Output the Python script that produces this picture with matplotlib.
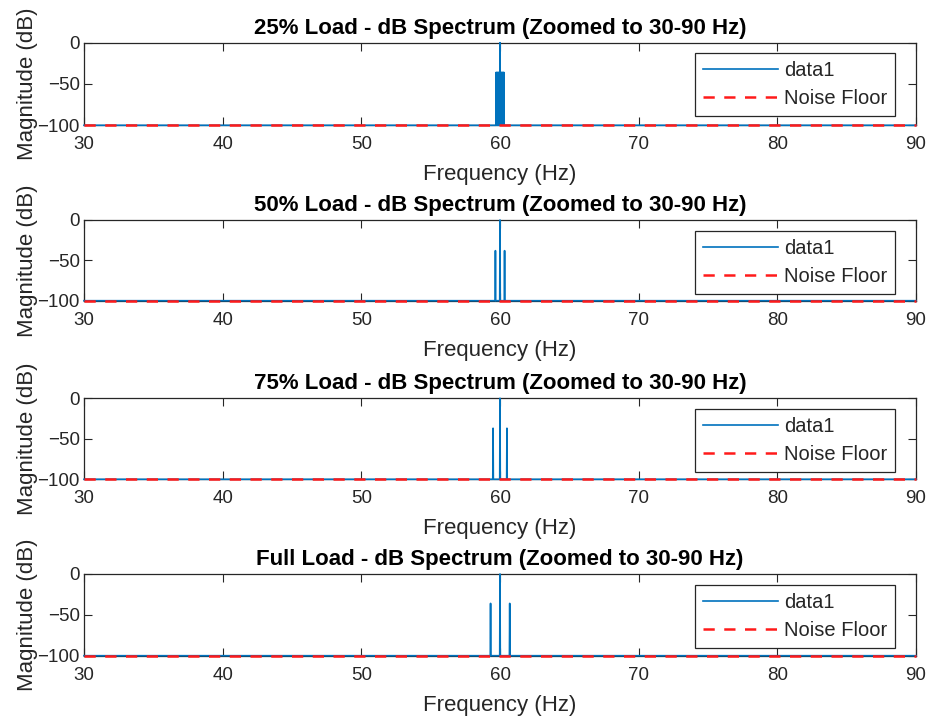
import matplotlib
matplotlib.use('Agg')
import matplotlib.pyplot as plt

plt.rcParams['font.family'] = ['Liberation Sans', 'DejaVu Sans']

# ---------------- data ----------------
titles = [
    '25% Load - dB Spectrum (Zoomed to 30-90 Hz)',
    '50% Load - dB Spectrum (Zoomed to 30-90 Hz)',
    '75% Load - dB Spectrum (Zoomed to 30-90 Hz)',
    'Full Load - dB Spectrum (Zoomed to 30-90 Hz)',
]
x_range = [30, 90]
noise_floor_db = -100

# spectral peaks (Hz) and their magnitudes (dB) per load case
peaks_f_25 = [59.72, 59.78, 59.84, 59.90, 59.96, 60.00, 60.04, 60.10, 60.16, 60.22, 60.28]
peaks_db_25 = [-36, -36, -36, -36, -36, 0, -36, -36, -36, -36, -36]
peaks_f_50 = [59.67, 60.00, 60.33]
peaks_db_50 = [-38, 0, -38]
peaks_f_75 = [59.50, 60.00, 60.50]
peaks_db_75 = [-37, 0, -37]
peaks_f_100 = [59.32, 60.00, 60.70]
peaks_db_100 = [-36, 0, -36]

peak_sets = [(peaks_f_25, peaks_db_25), (peaks_f_50, peaks_db_50),
             (peaks_f_75, peaks_db_75), (peaks_f_100, peaks_db_100)]

xticks = [30, 40, 50, 60, 70, 80, 90]
yticks = [-100, -50, 0]

# ---------------- style ----------------
BLUE = '#0072BD'
RED = '#FF1A1A'
DARK = '#262626'
HW = 0.02  # half width of each spectral line (Hz)

fig = plt.figure(figsize=(9.32, 7.19), dpi=100)
W, H = 932, 719
left_px, right_px = 84, 916
axes_px = [(42.7, 125.3), (220.0, 300.7), (398.3, 479.3), (574.0, 655.7)]

for i, (title, (pf, pdb)) in enumerate(zip(titles, peak_sets)):
    top, bot = axes_px[i]
    ax = fig.add_axes([left_px / W, 1 - bot / H, (right_px - left_px) / W, (bot - top) / H])

    fx = [x_range[0]]
    fy = [noise_floor_db]
    for f, d in zip(pf, pdb):
        fx += [f - HW, f, f + HW]
        fy += [noise_floor_db, d, noise_floor_db]
    fx.append(x_range[1])
    fy.append(noise_floor_db)

    ax.plot(fx, fy, color=BLUE, lw=1.2, label='data1', clip_on=False, zorder=3)
    ax.plot(x_range, [noise_floor_db, noise_floor_db], color=RED, lw=1.8,
            dashes=(4.5, 3.8), label='Noise Floor', clip_on=False, zorder=4)

    ax.set_xlim(x_range)
    ax.set_ylim(-100, 0)
    ax.set_xticks(xticks)
    ax.set_yticks(yticks)
    ax.tick_params(direction='in', top=True, right=True, length=5.5, width=0.8,
                   colors=DARK, labelsize=13.5)
    ax.tick_params(axis='x', pad=8)
    ax.tick_params(axis='y', pad=3)
    for s in ax.spines.values():
        s.set_color(DARK)
        s.set_linewidth(0.9)

    ax.set_title(title, fontsize=16, fontweight='bold', color='black', pad=6.5)
    ax.set_xlabel('Frequency (Hz)', fontsize=16, color=DARK)
    ax.set_ylabel('Magnitude (dB)', fontsize=16, color=DARK)
    hpx = bot - top
    ax.xaxis.set_label_coords(0.5, -39.0 / hpx)
    ax.yaxis.set_label_coords((38 - left_px) / (right_px - left_px), 0.5)

    leg = ax.legend(loc='upper right', bbox_to_anchor=((895 - left_px) / (right_px - left_px),
                                                       (hpx - 10.5) / hpx),
                    borderaxespad=0, fontsize=14.5, handlelength=3.7, handletextpad=0.3,
                    borderpad=0.4, labelspacing=0.45, fancybox=False, framealpha=1)
    leg.get_frame().set_edgecolor(DARK)
    leg.get_frame().set_linewidth(0.9)
    for t in leg.get_texts():
        t.set_color(DARK)

fig.savefig('out.png', dpi=100)
